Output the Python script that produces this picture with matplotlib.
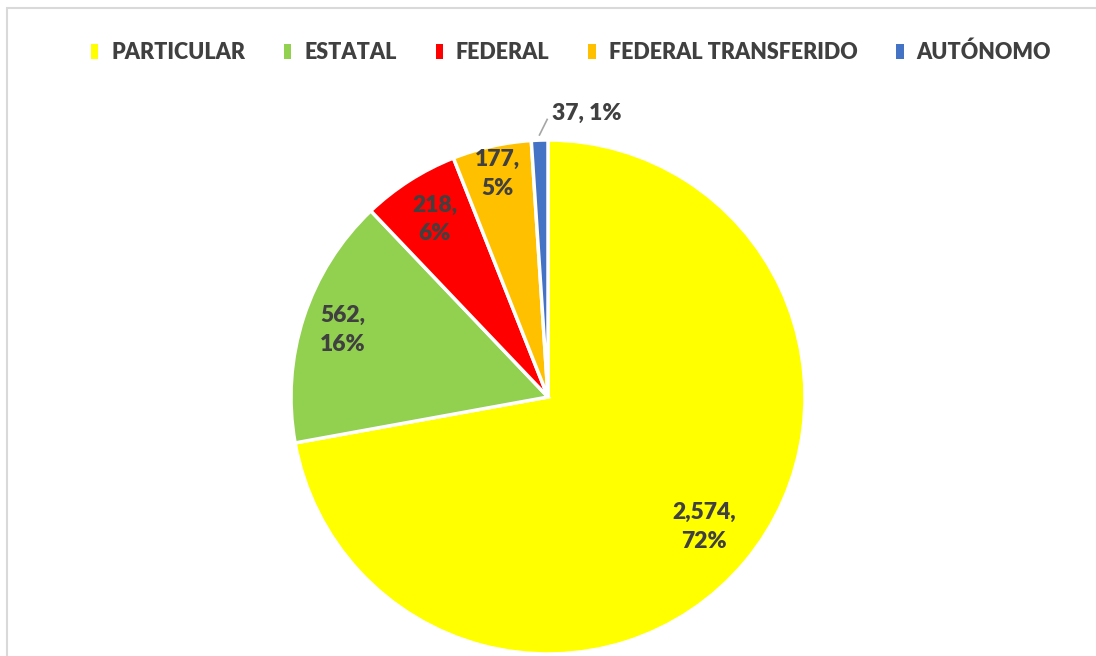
import matplotlib
matplotlib.use("Agg")
import matplotlib.pyplot as plt
import numpy as np
from matplotlib.patches import Rectangle, Patch

categories = ["PARTICULAR", "ESTATAL", "FEDERAL", "FEDERAL TRANSFERIDO", "AUTÓNOMO"]
values = [2574, 562, 218, 177, 37]
percent_labels = ["72%", "16%", "6%", "5%", "1%"]
colors = ["#FFFF00", "#92D050", "#FF0000", "#FFC000", "#4472C4"]

W, H = 1096, 656
fig = plt.figure(figsize=(W / 100, H / 100), dpi=100)
plt.rcParams['font.family'] = ['Lato', 'DejaVu Sans']

cx, cy, r = 548, 397, 257
ax = fig.add_axes([(cx - r) / W, (H - cy - r) / H, 2 * r / W, 2 * r / H])
wedges, _ = ax.pie(values, colors=colors, startangle=90, counterclock=False,
                   radius=1.0, wedgeprops=dict(edgecolor="white", linewidth=2.5))
ax.set_xlim(-1, 1)
ax.set_ylim(-1, 1)
ax.set_aspect("equal")
ax.axis("off")

txt_color = "#404040"
label_r = [0.79, 0.84, 0.82, 0.89]
for i, w in enumerate(wedges):
    mid = np.deg2rad((w.theta1 + w.theta2) / 2)
    if i < 4:
        rr = label_r[i]
        x, y = rr * np.cos(mid), rr * np.sin(mid)
        ax.text(x, y, f"{values[i]:,},\n{percent_labels[i]}", ha="center", va="center",
                fontsize=16.5, fontweight="heavy", color=txt_color, linespacing=1.45)
    else:
        x0, y0 = 1.02 * np.cos(mid), 1.02 * np.sin(mid)
        x1, y1 = x0 + 0.03, 1.08
        ax.plot([x0, x1], [y0, y1], color="#a6a6a6", lw=1.2, clip_on=False)
        ax.text(x1 + 0.02, y1 + 0.025, f"{values[i]:,}, {percent_labels[i]}", ha="left", va="center",
                fontsize=16.5, fontweight="heavy", color=txt_color)

handles = [Patch(facecolor=c, edgecolor="none") for c in colors]
leg = fig.legend(handles, categories, loc="center", bbox_to_anchor=(571 / W, 1 - 52 / H),
                 ncol=5, frameon=False, handlelength=0.35, handleheight=0.7,
                 handletextpad=0.6, columnspacing=1.8,
                 prop=dict(family="Lato", weight="heavy", size=15.5))
for t in leg.get_texts():
    t.set_color(txt_color)

fig.patches.append(Rectangle((7 / W, -0.1), 1.2, 1 - 8 / H + 0.1, transform=fig.transFigure,
                             fill=False, edgecolor="#d9d9d9", linewidth=1.5))

fig.savefig("out.png", dpi=100, facecolor="white")
